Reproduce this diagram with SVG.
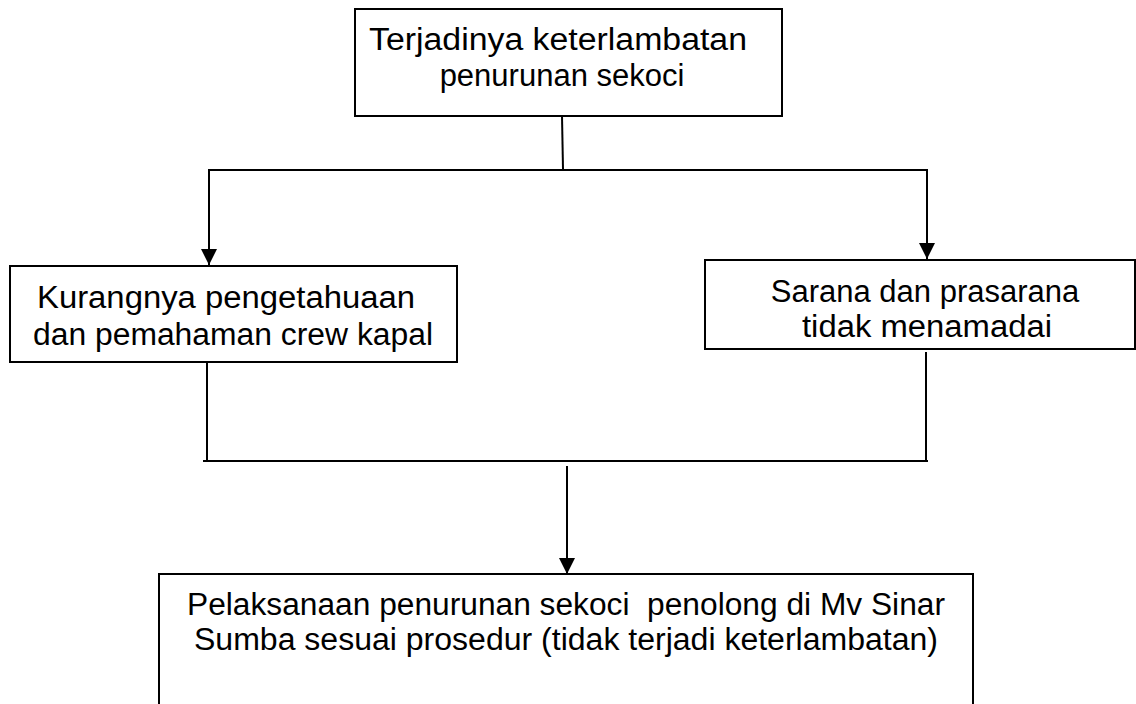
<svg xmlns="http://www.w3.org/2000/svg" width="1136" height="704" viewBox="0 0 1136 704">
<defs>
<style>
.box{fill:#fff;stroke:#000;stroke-width:2}
.ln{fill:none;stroke:#000;stroke-width:2}
.t{font-family:"Liberation Sans",Arial,sans-serif;font-size:31px;fill:#000;text-anchor:middle}
</style>
<marker id="arr" markerUnits="userSpaceOnUse" markerWidth="16" markerHeight="16" refX="16" refY="8" orient="auto">
<path d="M0,0 L16,8 L0,16 Z" fill="#000"/>
</marker>
</defs>
<rect width="1136" height="704" fill="#fff"/>
<g id="connectors">
<path class="ln" d="M562,116 L563,169"/>
<path class="ln" d="M208,170 L928,170"/>
<path class="ln" d="M209,170 L209,265" marker-end="url(#arr)"/>
<path class="ln" d="M927,170 L927,259" marker-end="url(#arr)"/>
<path class="ln" d="M207,363 L207,460"/>
<path class="ln" d="M926,352 L926,460"/>
<path class="ln" d="M203,461 L928,461"/>
<path class="ln" d="M567,466 L567,574" marker-end="url(#arr)"/>
</g>
<g id="top">
<rect class="box" x="355" y="9" width="427" height="107"/>
<text class="t" x="558" y="50" textLength="378" lengthAdjust="spacingAndGlyphs">Terjadinya keterlambatan</text>
<text class="t" x="562" y="86">penurunan sekoci</text>
</g>
<g id="left">
<rect class="box" x="10" y="266" width="447" height="96"/>
<text class="t" x="226" y="308" textLength="378" lengthAdjust="spacingAndGlyphs">Kurangnya pengetahuaan</text>
<text class="t" x="233" y="345" textLength="400" lengthAdjust="spacingAndGlyphs">dan pemahaman crew kapal</text>
</g>
<g id="right">
<rect class="box" x="705" y="260" width="430" height="89"/>
<text class="t" x="925" y="302">Sarana dan prasarana</text>
<text class="t" x="927" y="337" textLength="250" lengthAdjust="spacingAndGlyphs">tidak menamadai</text>
</g>
<g id="bottom">
<rect class="box" x="159" y="574" width="814" height="140"/>
<text class="t" x="566" y="615" xml:space="preserve" textLength="758" lengthAdjust="spacingAndGlyphs">Pelaksanaan penurunan sekoci  penolong di Mv Sinar</text>
<text class="t" x="566" y="650" textLength="744" lengthAdjust="spacingAndGlyphs">Sumba sesuai prosedur (tidak terjadi keterlambatan)</text>
</g>
</svg>
